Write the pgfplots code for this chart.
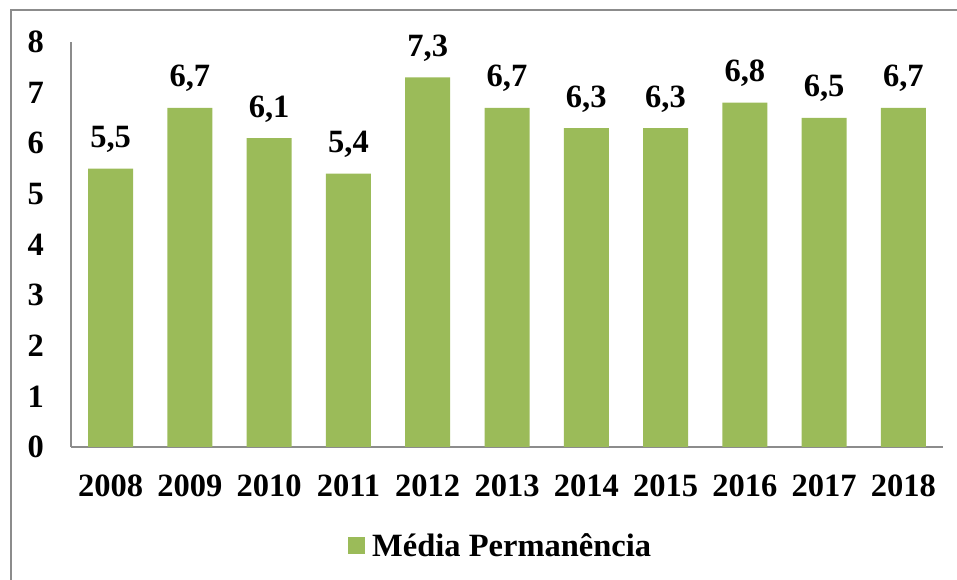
\documentclass[border=0pt]{standalone}
\usepackage{fontspec}
\setmainfont{Liberation Serif}
\usepackage{pgfplots}
\pgfplotsset{compat=1.18}
\definecolor{barcol}{HTML}{9BBB59}
\definecolor{axgray}{HTML}{8C8C8C}
\begin{document}
\begin{tikzpicture}[x=1pt,y=1pt]
\useasboundingbox (0,0) rectangle (957,580);
\draw[axgray, line width=2pt] (10.5,-5) -- (10.5,569.5) -- (962,569.5);
\begin{axis}[
  at={(71pt,133pt)}, anchor=south west,
  scale only axis, width=872pt, height=405pt,
  xmin=-0.5, xmax=10.5, ymin=0, ymax=8,
  axis x line*=bottom, axis y line*=left,
  axis line style={axgray, line width=1.3pt, -},
  xtick={0,...,10},
  xticklabels={2008,2009,2010,2011,2012,2013,2014,2015,2016,2017,2018},
  ytick={0,...,8},
  major tick length=0pt,
  tick label style={font=\fontsize{32.5}{38}\selectfont\bfseries, inner sep=0pt},
  /pgf/number format/assume math mode=true,
  xticklabel style={anchor=north, yshift=-28pt},
  yticklabel style={anchor=east, xshift=-27pt},
  ybar, bar width=45pt,
  nodes near coords,
  nodes near coords style={font=\fontsize{32.5}{38}\selectfont\bfseries, anchor=base, inner sep=0pt, yshift=21pt,
    /pgf/number format/.cd, use comma, fixed, fixed zerofill, precision=1, assume math mode=true},
  legend style={at={(0.3177,-0.2444)}, anchor=west, draw=none, fill=none, inner sep=0pt,
    font=\fontsize{32.5}{38}\selectfont\bfseries,
    nodes={inner sep=0pt}},
  legend image code/.code={\fill[barcol] (0pt,-8.5pt) rectangle (17pt,8.5pt); \path (24pt,0pt);},
]
\addplot[fill=barcol, draw=none] coordinates {
(0,5.5) (1,6.7) (2,6.1) (3,5.4) (4,7.3) (5,6.7) (6,6.3) (7,6.3) (8,6.8) (9,6.5) (10,6.7)};
\addlegendentry{Média Permanência}
\end{axis}
\end{tikzpicture}
\end{document}
